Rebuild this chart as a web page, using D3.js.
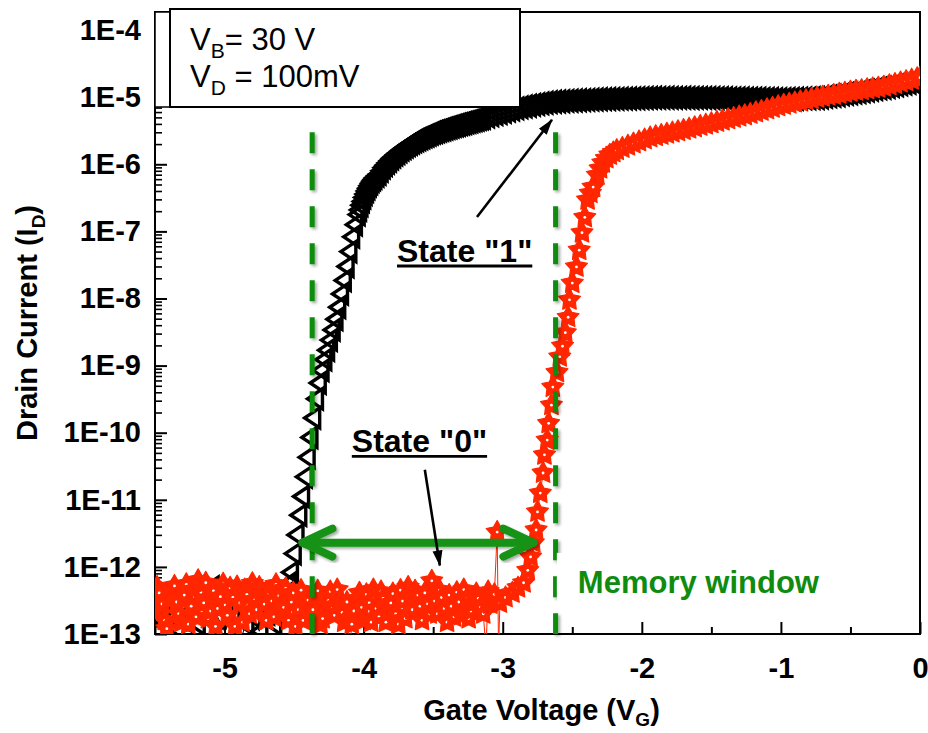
<!DOCTYPE html>
<html>
<head>
<meta charset="utf-8">
<script src="https://cdn.jsdelivr.net/npm/d3@7"></script>
<style>
  body { margin: 0; background: #fff; }
  text { font-family: "Liberation Sans", Arial, sans-serif; }
</style>
</head>
<body>
<div id="chart"></div>
<script>
// transfer curves, pairs of [gate voltage (V), drain current (A)]
// black = state "1" sweep, red = state "0" sweep
var blackFloor = [[-5.50,1.8e-13],[-5.45,1.4e-13],[-5.40,2.0e-13],[-5.35,1.2e-13],[-5.30,1.6e-13],[-5.25,2.2e-13],[-5.20,1.4e-13],[-5.15,4.0e-13],[-5.10,5.0e-13],[-5.05,1.8e-13],[-5.00,1.1e-13],[-4.95,2.0e-13],[-4.90,6e-14],[-4.85,1.4e-13],[-4.80,1.8e-13],[-4.75,1.1e-13],[-4.70,2.0e-13],[-4.65,1.4e-13],[-4.60,2.8e-13],[-4.57,4.0e-13],[-4.55,5.6e-13]];

var blackRise = [[-4.53,8.3e-13],[-4.51,1.58e-12],[-4.49,3.0e-12],[-4.47,5.9e-12],[-4.45,1.12e-11],[-4.43,2.2e-11],[-4.41,4.3e-11],[-4.39,8.5e-11],[-4.37,1.66e-10],[-4.35,3.2e-10],[-4.33,5.5e-10],[-4.31,8.5e-10],[-4.29,1.23e-9],[-4.27,1.70e-9],[-4.25,2.4e-9],[-4.23,3.4e-9],[-4.21,4.9e-9],[-4.19,7.4e-9],[-4.17,1.17e-8],[-4.15,1.86e-8],[-4.13,3.0e-8],[-4.11,5.0e-8],[-4.09,8.3e-8],[-4.07,1.26e-7],[-4.05,1.78e-7],[-4.04,2.09e-7],[-4.03,2.45e-7],[-4.02,2.8e-7],[-4.01,3.2e-7],[-4.00,3.6e-7],[-3.99,4.0e-7],[-3.98,4.4e-7],[-3.97,4.8e-7],[-3.96,5.2e-7],[-3.95,5.6e-7],[-3.94,5.95e-7],[-3.93,6.3e-7]];

var blackKnee = [[-3.915,6.75e-7],[-3.90,7.2e-7],[-3.885,8.0e-7],[-3.87,8.9e-7],[-3.855,9.7e-7],[-3.84,1.05e-6],[-3.825,1.13e-6],[-3.81,1.22e-6],[-3.795,1.30e-6],[-3.78,1.39e-6],[-3.765,1.47e-6],[-3.75,1.56e-6],[-3.735,1.65e-6],[-3.72,1.74e-6],[-3.705,1.83e-6],[-3.69,1.93e-6],[-3.675,2.01e-6],[-3.66,2.10e-6],[-3.645,2.19e-6],[-3.63,2.28e-6],[-3.615,2.36e-6],[-3.60,2.44e-6],[-3.585,2.52e-6],[-3.57,2.61e-6],[-3.555,2.69e-6],[-3.54,2.77e-6],[-3.525,2.86e-6],[-3.51,2.96e-6],[-3.495,3.03e-6],[-3.48,3.11e-6],[-3.465,3.18e-6],[-3.45,3.26e-6],[-3.435,3.33e-6],[-3.42,3.41e-6],[-3.405,3.49e-6],[-3.39,3.57e-6],[-3.375,3.65e-6],[-3.36,3.73e-6],[-3.345,3.80e-6],[-3.33,3.88e-6],[-3.315,3.96e-6],[-3.30,4.04e-6],[-3.285,4.12e-6],[-3.27,4.21e-6],[-3.255,4.29e-6],[-3.24,4.38e-6],[-3.225,4.47e-6],[-3.21,4.56e-6],[-3.195,4.65e-6],[-3.18,4.75e-6],[-3.165,4.84e-6]];

var blackOn = [[-3.15,4.94e-6],[-3.12,5.15e-6],[-3.09,5.36e-6],[-3.06,5.58e-6],[-3.03,5.81e-6],[-3.00,6.05e-6],[-2.97,6.30e-6],[-2.94,6.56e-6],[-2.91,6.82e-6],[-2.88,7.05e-6],[-2.85,7.26e-6],[-2.82,7.46e-6],[-2.79,7.69e-6],[-2.76,7.88e-6],[-2.73,8.07e-6],[-2.70,8.26e-6],[-2.67,8.45e-6],[-2.64,8.55e-6],[-2.61,8.63e-6],[-2.58,8.71e-6],[-2.55,8.79e-6],[-2.52,8.85e-6],[-2.49,8.93e-6],[-2.46,8.99e-6],[-2.43,9.06e-6],[-2.40,9.12e-6],[-2.37,9.18e-6],[-2.34,9.25e-6],[-2.31,9.31e-6],[-2.28,9.35e-6],[-2.25,9.40e-6],[-2.22,9.42e-6],[-2.19,9.46e-6],[-2.16,9.51e-6],[-2.13,9.53e-6],[-2.10,9.57e-6],[-2.07,9.62e-6],[-2.04,9.64e-6],[-2.01,9.68e-6],[-1.98,9.73e-6],[-1.95,9.75e-6],[-1.92,9.80e-6],[-1.89,9.76e-6],[-1.86,9.79e-6],[-1.83,9.81e-6],[-1.80,9.78e-6],[-1.77,9.75e-6],[-1.74,9.77e-6],[-1.71,9.80e-6],[-1.68,9.76e-6],[-1.65,9.74e-6],[-1.62,9.77e-6],[-1.59,9.75e-6],[-1.56,9.75e-6],[-1.53,9.73e-6],[-1.50,9.71e-6],[-1.47,9.68e-6],[-1.44,9.66e-6],[-1.41,9.64e-6],[-1.38,9.62e-6],[-1.35,9.60e-6],[-1.32,9.58e-6],[-1.29,9.56e-6],[-1.26,9.54e-6],[-1.23,9.52e-6],[-1.20,9.50e-6],[-1.17,9.48e-6],[-1.14,9.45e-6],[-1.11,9.43e-6],[-1.08,9.40e-6],[-1.05,9.38e-6],[-1.02,9.35e-6],[-0.99,9.35e-6],[-0.96,9.40e-6],[-0.93,9.44e-6],[-0.90,9.49e-6],[-0.87,9.53e-6],[-0.84,9.58e-6],[-0.81,9.62e-6],[-0.78,9.67e-6],[-0.75,9.71e-6],[-0.72,9.91e-6],[-0.69,1.01e-5],[-0.66,1.03e-5],[-0.63,1.05e-5],[-0.60,1.07e-5],[-0.57,1.10e-5],[-0.54,1.12e-5],[-0.51,1.14e-5],[-0.48,1.17e-5],[-0.45,1.19e-5],[-0.42,1.22e-5],[-0.39,1.25e-5],[-0.36,1.29e-5],[-0.33,1.32e-5],[-0.30,1.35e-5],[-0.27,1.38e-5],[-0.24,1.42e-5],[-0.21,1.46e-5],[-0.18,1.50e-5],[-0.15,1.55e-5],[-0.12,1.59e-5],[-0.09,1.63e-5],[-0.06,1.68e-5],[-0.03,1.73e-5],[0.00,1.78e-5]];

var redFloor = [[-5.50,2.2e-13],[-5.485,5.0e-13],[-5.47,4.1e-13],[-5.45,2.8e-13],[-5.43,1.6e-13],[-5.415,1.2e-13],[-5.40,3.3e-13],[-5.38,4.4e-13],[-5.36,5.2e-13],[-5.345,3.0e-13],[-5.33,2.0e-13],[-5.31,1.5e-13],[-5.29,3.8e-13],[-5.275,5.5e-13],[-5.26,1.4e-13],[-5.24,2.6e-13],[-5.22,4.6e-13],[-5.205,1.8e-13],[-5.19,6.3e-13],[-5.17,4.2e-13],[-5.15,2.9e-13],[-5.135,5.8e-13],[-5.12,1.7e-13],[-5.10,2.2e-13],[-5.08,4.4e-13],[-5.065,1.3e-13],[-5.05,2.4e-13],[-5.03,3.6e-13],[-5.01,5.6e-13],[-4.995,2.7e-13],[-4.98,1.9e-13],[-4.96,4.9e-13],[-4.94,3.5e-13],[-4.925,1.3e-13],[-4.91,5.1e-13],[-4.89,2.9e-13],[-4.87,1.5e-13],[-4.855,4.6e-13],[-4.84,3.9e-13],[-4.82,2.0e-13],[-4.80,5.7e-13],[-4.785,3.2e-13],[-4.77,2.3e-13],[-4.75,5.0e-13],[-4.73,4.2e-13],[-4.715,2.8e-13],[-4.70,1.6e-13],[-4.68,4.0e-13],[-4.66,3.1e-13],[-4.645,1.8e-13],[-4.63,5.5e-13],[-4.61,3.7e-13],[-4.59,2.1e-13],[-4.575,2.5e-13],[-4.56,4.8e-13],[-4.54,1.6e-13],[-4.52,3.0e-13],[-4.505,4.1e-13],[-4.49,1.3e-13],[-4.47,2.3e-13],[-4.45,4.5e-13],[-4.435,1.6e-13],[-4.42,2.6e-13],[-4.40,3.2e-13],[-4.38,1.8e-13],[-4.365,2.3e-13],[-4.35,3.6e-13],[-4.33,4.4e-13],[-4.31,1.4e-13],[-4.295,1.7e-13],[-4.28,2.7e-13],[-4.26,3.3e-13],[-4.24,4.3e-13],[-4.225,2.4e-13],[-4.21,1.9e-13],[-4.19,4.6e-13],[-4.17,3.2e-13],[-4.155,2.1e-13],[-4.14,1.5e-13],[-4.12,3.0e-13],[-4.10,6e-14],[-4.085,1.4e-13],[-4.07,2.2e-13],[-4.05,3.3e-13],[-4.03,4.1e-13],[-4.015,2.5e-13],[-4.00,1.6e-13],[-3.98,3.9e-13],[-3.96,2.9e-13],[-3.945,1.5e-13],[-3.93,4.6e-13],[-3.91,2.4e-13],[-3.89,1.8e-13],[-3.875,4.3e-13],[-3.86,3.4e-13],[-3.84,1.5e-13],[-3.82,2.1e-13],[-3.805,2.9e-13],[-3.79,4.0e-13],[-3.77,2.0e-13],[-3.75,1.4e-13],[-3.735,4.5e-13],[-3.72,3.1e-13],[-3.70,1.7e-13],[-3.68,5.0e-13],[-3.665,3.5e-13],[-3.65,2.3e-13],[-3.63,4.4e-13],[-3.61,3.8e-13],[-3.595,2.6e-13],[-3.58,1.6e-13],[-3.56,4.1e-13],[-3.54,2.8e-13],[-3.525,2.0e-13],[-3.51,6.2e-13],[-3.49,3.1e-13],[-3.47,2.0e-13],[-3.455,4.5e-13],[-3.44,3.5e-13],[-3.42,2.4e-13],[-3.40,1.5e-13],[-3.385,3.8e-13],[-3.37,2.6e-13],[-3.35,1.8e-13],[-3.33,4.2e-13],[-3.315,3.0e-13],[-3.30,1.9e-13],[-3.28,4.6e-13],[-3.26,3.3e-13],[-3.245,1.7e-13],[-3.23,2.2e-13],[-3.21,2.9e-13],[-3.19,4.0e-13],[-3.175,3.4e-13],[-3.16,2.5e-13],[-3.14,2.0e-13],[-3.12,6e-14],[-3.105,4.3e-13],[-3.09,2.8e-13],[-3.075,3.2e-13],[-3.06,3.9e-13],[-3.04,3.3e-12],[-3.03,6e-14]];

var redRise = [[-3.02,2.9e-13],[-2.98,3.5e-13],[-2.93,4.1e-13],[-2.89,4.9e-13],[-2.85,5.8e-13],[-2.82,8.9e-13],[-2.80,1.41e-12],[-2.78,2.29e-12],[-2.76,3.55e-12],[-2.75,6.6e-12],[-2.73,1.26e-11],[-2.71,2.51e-11],[-2.70,4.68e-11],[-2.68,7.76e-11],[-2.67,1.38e-10],[-2.65,2.57e-10],[-2.64,4.79e-10],[-2.61,7.94e-10],[-2.59,1.35e-9],[-2.57,1.95e-9],[-2.55,3.09e-9],[-2.53,5.25e-9],[-2.52,9.55e-9],[-2.50,1.70e-8],[-2.47,2.95e-8],[-2.45,5.25e-8],[-2.43,9.55e-8],[-2.41,1.62e-7],[-2.39,2.95e-7],[-2.37,3.7e-7],[-2.35,4.57e-7],[-2.32,6.92e-7],[-2.30,8.6e-7],[-2.28,1.05e-6],[-2.255,1.22e-6]];

var redOn = [[-2.23,1.38e-6],[-2.205,1.50e-6],[-2.18,1.62e-6],[-2.14,1.75e-6],[-2.10,1.89e-6],[-2.06,2.04e-6],[-2.02,2.19e-6],[-1.98,2.34e-6],[-1.94,2.51e-6],[-1.90,2.62e-6],[-1.86,2.73e-6],[-1.82,2.85e-6],[-1.78,2.97e-6],[-1.74,3.10e-6],[-1.70,3.24e-6],[-1.66,3.39e-6],[-1.62,3.55e-6],[-1.58,3.72e-6],[-1.54,3.89e-6],[-1.50,4.07e-6],[-1.46,4.27e-6],[-1.42,4.47e-6],[-1.38,4.68e-6],[-1.34,4.90e-6],[-1.30,5.13e-6],[-1.26,5.37e-6],[-1.22,5.62e-6],[-1.18,5.93e-6],[-1.14,6.24e-6],[-1.10,6.58e-6],[-1.06,6.92e-6],[-1.02,7.30e-6],[-0.98,7.67e-6],[-0.94,7.98e-6],[-0.90,8.32e-6],[-0.86,8.65e-6],[-0.82,9.02e-6],[-0.78,9.38e-6],[-0.74,9.77e-6],[-0.70,1.01e-5],[-0.66,1.05e-5],[-0.62,1.08e-5],[-0.58,1.12e-5],[-0.54,1.16e-5],[-0.50,1.20e-5],[-0.46,1.24e-5],[-0.42,1.27e-5],[-0.38,1.31e-5],[-0.34,1.35e-5],[-0.30,1.38e-5],[-0.26,1.43e-5],[-0.22,1.50e-5],[-0.18,1.57e-5],[-0.14,1.65e-5],[-0.10,1.73e-5],[-0.06,1.82e-5],[-0.02,1.91e-5],[0.00,1.95e-5]];

// ticks
var xTicks = [-5, -4, -3, -2, -1, 0];
var xMinorTicks = [-5.5, -4.5, -3.5, -2.5, -1.5, -0.5];
var yTicks = [1e-13, 1e-12, 1e-11, 1e-10, 1e-9, 1e-8, 1e-7, 1e-6, 1e-5, 1e-4];

// memory window annotation (gate voltages) and arrow level
var windowEdges = [-4.37, -2.62];
var windowTop = 3.0e-6;
var windowArrow = [-4.44, -2.78];
var windowArrowLevel = 2.3e-12;

// state labels and their pointer arrows [from, to]
var stateLabels = [
  {text: 'State "1"', v: -3.76, i: 3.5e-8},
  {text: 'State "0"', v: -4.085, i: 5.1e-11}
];
var stateArrows = [
  [[-3.185, 1.64e-7], [-2.646, 4.6e-6]],
  [[-3.56, 2.8e-11], [-3.452, 1.05e-12]]
];
var memoryLabel = {v: -2.46, i: 4.1e-13};

// chart size
var margin = {top: 12, right: 8, bottom: 99, left: 155},
    width = 928 - margin.left - margin.right,
    height = 733 - margin.top - margin.bottom;

var blackData = blackFloor.concat(blackRise, blackKnee, blackOn);
var redData = redFloor.concat(redRise, redOn);

var x = d3.scaleLinear().domain([-5.5, 0]).range([0, width]);
var y = d3.scaleLog().domain([1e-13, 1.86e-4]).range([height, 0]);

var svg = d3.select("#chart").append("svg")
    .attr("width", 928)
    .attr("height", 733);

var defs = svg.append("defs");
defs.append("clipPath").attr("id", "clip")
  .append("rect").attr("width", width).attr("height", height);

var shadow = defs.append("filter").attr("id", "shadow")
    .attr("x", "-50%").attr("y", "-20%").attr("width", "200%").attr("height", "140%");
shadow.append("feDropShadow")
    .attr("dx", 2).attr("dy", 2).attr("stdDeviation", 1.6)
    .attr("flood-color", "#000").attr("flood-opacity", 0.35);

defs.append("marker").attr("id", "head")
    .attr("markerUnits", "userSpaceOnUse")
    .attr("viewBox", "0 -6 16 12")
    .attr("refX", 15).attr("refY", 0)
    .attr("markerWidth", 16).attr("markerHeight", 12)
    .attr("orient", "auto")
  .append("path").attr("d", "M0,-5L16,0L0,5Z").attr("fill", "#000");

var g = svg.append("g")
    .attr("transform", "translate(" + margin.left + "," + margin.top + ")");

// minor ticks on the log axis
var yMinorTicks = [];
yTicks.forEach(function(d) {
  for (var m = 2; m <= 9; m++) {
    if (d * m < y.domain()[1]) yMinorTicks.push(d * m);
  }
});

var fontBold = function(sel, size) {
  sel.attr("font-family", '"Liberation Sans", Arial, sans-serif')
     .attr("font-weight", "bold")
     .attr("font-size", size)
     .attr("fill", "#000");
};

// axes, ticks point inward
var yAxis = g.append("g")
    .call(d3.axisLeft(y).tickValues(yTicks)
      .tickFormat(function(d) { return "1E" + Math.round(Math.log10(d)); })
      .tickSizeInner(-12).tickSizeOuter(0).tickPadding(14));
yAxis.select(".domain").remove();
yAxis.selectAll("line").attr("stroke-width", 2);
yAxis.selectAll("text").call(fontBold, 29);

var yMinor = g.append("g")
    .call(d3.axisLeft(y).tickValues(yMinorTicks).tickFormat("")
      .tickSizeInner(-7).tickSizeOuter(0));
yMinor.select(".domain").remove();
yMinor.selectAll("line").attr("stroke-width", 1.6);

var xAxis = g.append("g")
    .attr("transform", "translate(0," + height + ")")
    .call(d3.axisBottom(x).tickValues(xTicks)
      .tickFormat(function(d) { return String(d); })
      .tickSizeInner(-12).tickSizeOuter(0).tickPadding(23));
xAxis.select(".domain").remove();
xAxis.selectAll("line").attr("stroke-width", 2);
xAxis.selectAll("text").call(fontBold, 29);

var xMinor = g.append("g")
    .attr("transform", "translate(0," + height + ")")
    .call(d3.axisBottom(x).tickValues(xMinorTicks).tickFormat("")
      .tickSizeInner(-7).tickSizeOuter(0));
xMinor.select(".domain").remove();
xMinor.selectAll("line").attr("stroke-width", 2);

g.append("rect")
    .attr("width", width).attr("height", height)
    .attr("fill", "none").attr("stroke", "#000").attr("stroke-width", 2);

// data layers
var plot = g.append("g").attr("clip-path", "url(#clip)");

var line = d3.line()
    .x(function(d) { return x(d[0]); })
    .y(function(d) { return y(d[1]); });

plot.append("path")
    .datum(blackFloor)
    .attr("d", line)
    .attr("fill", "none").attr("stroke", "#000").attr("stroke-width", 1);

var triangle = "M-7.5,0L7.5,-10L7.5,10Z";
plot.append("g").selectAll("path")
    .data(blackData)
  .join("path")
    .attr("d", triangle)
    .attr("transform", function(d) { return "translate(" + x(d[0]) + "," + y(d[1]) + ")"; })
    .attr("fill", "none")
    .attr("stroke", "#000")
    .attr("stroke-width", 3.4);

var red = "#ff2600";
plot.append("path")
    .datum(redData)
    .attr("d", line)
    .attr("fill", "none").attr("stroke", red).attr("stroke-width", 1);

var starPts = [];
for (var k = 0; k < 10; k++) {
  var a = -Math.PI / 2 + k * Math.PI / 5, r = (k % 2) ? 6.2 : 11.5;
  starPts.push([r * Math.cos(a), r * Math.sin(a)]);
}
var star = "M" + starPts.join("L") + "Z";

var stars = plot.append("g").selectAll("g")
    .data(redData)
  .join("g")
    .attr("transform", function(d) { return "translate(" + x(d[0]) + "," + y(d[1]) + ")"; });
stars.append("path").attr("d", star).attr("fill", red)
    .attr("stroke", red).attr("stroke-width", 1.2).attr("stroke-linejoin", "round");
stars.append("circle").attr("r", 1.4).attr("fill", "#fff");

// memory window dashed lines
g.append("g").attr("filter", "url(#shadow)").selectAll("line")
    .data(windowEdges)
  .join("line")
    .attr("x1", function(d) { return x(d); })
    .attr("x2", function(d) { return x(d); })
    .attr("y1", y(windowTop))
    .attr("y2", height)
    .attr("stroke", "#0a8c0a")
    .attr("stroke-width", 5)
    .attr("stroke-dasharray", "21,16");

// double headed arrow
var ax0 = x(windowArrow[0]), ax1 = x(windowArrow[1]), ay = y(windowArrowLevel);
var arrowG = g.append("g").attr("filter", "url(#shadow)")
    .attr("stroke", "#169316").attr("stroke-width", 8)
    .attr("stroke-linecap", "round").attr("fill", "none");
arrowG.append("line").attr("x1", ax0).attr("x2", ax1).attr("y1", ay).attr("y2", ay);
arrowG.append("path")
    .attr("d", "M" + (ax0 + 30) + "," + (ay - 14) + "L" + ax0 + "," + ay + "L" + (ax0 + 30) + "," + (ay + 14))
    .attr("stroke-linejoin", "round");
arrowG.append("path")
    .attr("d", "M" + (ax1 - 30) + "," + (ay - 14) + "L" + ax1 + "," + ay + "L" + (ax1 - 30) + "," + (ay + 14))
    .attr("stroke-linejoin", "round");

// state labels with underline
stateLabels.forEach(function(s) {
  var t = g.append("text")
      .attr("x", x(s.v)).attr("y", y(s.i))
      .text(s.text)
      .call(fontBold, 32);
  var len = t.node().getComputedTextLength();
  g.append("line")
      .attr("x1", x(s.v)).attr("x2", x(s.v) + len)
      .attr("y1", y(s.i) + 4).attr("y2", y(s.i) + 4)
      .attr("stroke", "#000").attr("stroke-width", 2.8);
});

g.selectAll(".pointer")
    .data(stateArrows)
  .join("line")
    .attr("class", "pointer")
    .attr("x1", function(d) { return x(d[0][0]); })
    .attr("y1", function(d) { return y(d[0][1]); })
    .attr("x2", function(d) { return x(d[1][0]); })
    .attr("y2", function(d) { return y(d[1][1]); })
    .attr("stroke", "#000").attr("stroke-width", 2.6)
    .attr("marker-end", "url(#head)");

// memory window label on a white patch
g.append("rect")
    .attr("x", x(memoryLabel.v) - 21).attr("y", y(memoryLabel.i) - 40)
    .attr("width", 275).attr("height", 58)
    .attr("fill", "#fff");
g.append("text")
    .attr("x", x(memoryLabel.v)).attr("y", y(memoryLabel.i))
    .text("Memory window")
    .call(fontBold, 31)
    .attr("fill", "#0f8c0f");

// legend box in the top left corner
svg.append("rect")
    .attr("x", 155).attr("y", 12).attr("width", 15).attr("height", 95)
    .attr("fill", "#fff").attr("stroke", "#000").attr("stroke-width", 1.5);
svg.append("rect")
    .attr("x", 170).attr("y", 9).attr("width", 350).attr("height", 98)
    .attr("fill", "#fff").attr("stroke", "#000").attr("stroke-width", 2);

var legendLines = [["B", "= 30 V"], ["D", " = 100mV"]];
legendLines.forEach(function(l, idx) {
  var t = svg.append("text")
      .attr("x", 190).attr("y", 50 + idx * 37)
      .attr("font-size", 31).attr("fill", "#000")
      .attr("xml:space", "preserve");
  t.append("tspan").text("V");
  t.append("tspan").attr("font-size", 21).attr("dy", 8).text(l[0]);
  t.append("tspan").attr("dy", -8).text(l[1]);
});

// axis titles
var yTitle = svg.append("text")
    .attr("transform", "translate(37," + (margin.top + height / 2) + ") rotate(-90)")
    .attr("text-anchor", "middle")
    .call(fontBold, 29);
yTitle.append("tspan").text("Drain Current (I");
yTitle.append("tspan").attr("font-size", 19).attr("dy", 8).text("D");
yTitle.append("tspan").attr("dy", -8).text(")");

var xTitle = svg.append("text")
    .attr("x", margin.left + width / 2 + 4).attr("y", 720)
    .attr("text-anchor", "middle")
    .call(fontBold, 29);
xTitle.append("tspan").text("Gate Voltage (V");
xTitle.append("tspan").attr("font-size", 19).attr("dy", 6).text("G");
xTitle.append("tspan").attr("dy", -6).text(")");
</script>
</body>
</html>
